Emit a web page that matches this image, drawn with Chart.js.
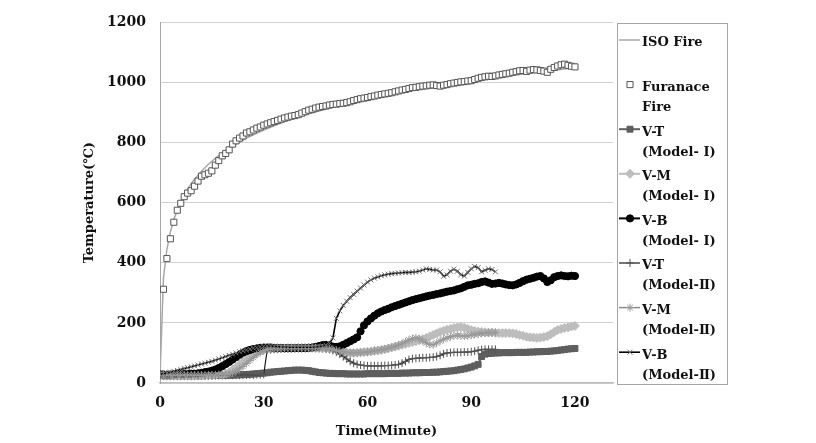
<!DOCTYPE html>
<html>
<head>
<meta charset="utf-8">
<script src="https://cdn.jsdelivr.net/npm/chart.js@4"></script>
<style>
  html, body { margin: 0; padding: 0; background: #fff; }
  #wrap { width: 816px; height: 443px; position: relative; }
</style>
</head>
<body>
<div id="wrap"><canvas id="fireChart"></canvas></div>
<script>
// legend text, one array of lines per series
const legendLabels = [
  ['ISO Fire'],
  ['Furanace', 'Fire'],
  ['V-T', '(Model- Ⅰ)'],
  ['V-M', '(Model- Ⅰ)'],
  ['V-B', '(Model- Ⅰ)'],
  ['V-T', '(Model-Ⅱ)'],
  ['V-M', '(Model-Ⅱ)'],
  ['V-B', '(Model-Ⅱ)']
];

const xTicks = [0, 30, 60, 90, 120];

// ISO 834 standard curve, read at a few times
const isoTime = [0, 1, 2, 3, 4, 5, 6, 7, 8, 9, 10, 12, 14, 16, 18, 20, 25, 30, 35, 40, 45, 50, 55, 60, 70, 80, 90, 100, 110, 120];
const isoTemp = [20, 349, 445, 502, 544, 576, 603, 626, 645, 663, 678, 705, 728, 748, 766, 781, 815, 842, 865, 885, 902, 918, 932, 945, 968, 988, 1006, 1022, 1036, 1049];

// the measured series are one reading per minute, starting at minute 0
const furnace = [
  30, 312, 414, 480, 535, 575, 598, 620, 632, 640,
  655, 672, 688, 693, 698, 706, 725, 740, 756, 764,
  776, 795, 806, 815, 822, 832, 836, 842, 848, 852,
  858, 862, 866, 870, 874, 878, 882, 885, 888, 890,
  893, 898, 903, 908, 911, 915, 918, 920, 922, 925,
  927, 928, 930, 931, 933, 936, 940, 943, 946, 948,
  950, 953, 955, 958, 960, 962, 964, 966, 969, 972,
  975, 977, 980, 983, 984, 986, 988, 989, 991, 992,
  990, 988, 991, 993, 996, 998, 1000, 1002, 1003, 1005,
  1006, 1010, 1014, 1017, 1019, 1021, 1020, 1022, 1025, 1027,
  1029, 1031, 1034, 1036, 1039, 1040, 1037, 1041, 1043, 1042,
  1040, 1038, 1034, 1044, 1050, 1055, 1059, 1061, 1057, 1054,
  1052
];

const vtModel1 = [
  25, 24, 24, 24, 24, 24, 24, 24, 24, 24,
  24, 24, 24, 25, 25, 25, 25, 25, 26, 26,
  26, 26, 27, 27, 28, 28, 29, 30, 31, 32,
  33, 34, 36, 37, 38, 39, 40, 41, 42, 43,
  43, 43, 42, 41, 39, 37, 35, 34, 33, 32,
  32, 31, 31, 31, 30, 30, 30, 30, 30, 30,
  31, 31, 31, 31, 31, 31, 32, 32, 32, 32,
  33, 33, 33, 34, 34, 34, 35, 35, 35, 36,
  36, 37, 38, 39, 40, 41, 43, 45, 47, 50,
  53, 57, 62, 88, 96, 98, 99, 100, 100, 101,
  101, 101, 101, 102, 102, 102, 102, 103, 103, 104,
  104, 105, 105, 106, 107, 108, 110, 111, 113, 114,
  115
];

const vmModel1 = [
  25, 24, 24, 24, 24, 24, 24, 24, 24, 24,
  24, 24, 25, 25, 25, 26, 27, 28, 28, 31,
  36, 44, 52, 61, 70, 78, 86, 94, 101, 106,
  110, 112, 113, 114, 114, 115, 115, 116, 116, 116,
  117, 117, 117, 117, 117, 116, 116, 115, 115, 114,
  113, 110, 106, 103, 101, 100, 100, 101, 102, 103,
  104, 105, 107, 108, 110, 112, 115, 118, 121, 124,
  127, 130, 133, 136, 139, 142, 146, 150, 155, 160,
  165, 170, 174, 177, 180, 183, 185, 186, 184, 180,
  176, 173, 171, 170, 169, 168, 168, 167, 166, 166,
  166, 166, 165, 163, 160, 157, 154, 152, 151, 150,
  151, 153, 156, 162, 170, 176, 180, 183, 185, 188,
  190
];

const vbModel1 = [
  28, 28, 28, 28, 29, 29, 29, 30, 30, 31,
  31, 32, 34, 36, 38, 41, 45, 50, 56, 63,
  70, 78, 86, 94, 101, 106, 110, 113, 115, 117,
  118, 118, 118, 117, 117, 117, 116, 116, 116, 116,
  116, 116, 116, 117, 118, 120, 123, 126, 127, 125,
  121, 120, 122, 127, 133, 139, 145, 152, 172, 192,
  205, 215, 224, 232, 238, 243, 247, 252, 256, 260,
  264, 268, 272, 276, 279, 282, 285, 288, 291, 293,
  296, 298, 301, 304, 306, 308, 312, 315, 320, 325,
  327, 330, 332, 336, 338, 334, 330, 331, 333, 331,
  328, 326, 325, 328, 333, 339, 344, 347, 350, 354,
  356, 348, 336, 342, 352, 356, 358, 356, 355, 357,
  356
];

const vtModel2 = [
  25, 25, 25, 25, 25, 25, 25, 25, 25, 25,
  25, 25, 25, 25, 25, 25, 25, 25, 25, 25,
  26, 26, 26, 26, 26, 27, 27, 27, 28, 28,
  29, 110, 112, 113, 114, 114, 115, 115, 115, 116,
  116, 116, 116, 116, 117, 117, 117, 116, 115, 112,
  108, 103, 96, 88, 80, 72, 66, 62, 60, 58,
  57, 57, 57, 57, 57, 58, 58, 59, 60, 62,
  66, 72, 78, 81, 82, 83, 84, 84, 85, 86,
  88, 92, 97, 100, 101, 102, 102, 102, 103, 103,
  104, 106, 109, 111, 112, 112, 112, 112
];

const vmModel2 = [
  26, 26, 26, 26, 26, 26, 26, 26, 26, 26,
  26, 26, 26, 26, 27, 27, 27, 28, 28, 29,
  30, 34, 40, 47, 55, 65, 75, 85, 95, 102,
  108, 112, 114, 115, 116, 116, 117, 117, 117, 117,
  117, 117, 117, 117, 117, 117, 116, 116, 115, 114,
  112, 109, 106, 104, 102, 101, 100, 100, 101, 102,
  103, 105, 107, 109, 111, 113, 116, 119, 122, 126,
  131, 137, 143, 148, 150, 147, 140, 133, 128, 127,
  133, 140, 146, 150, 154, 157, 158, 157, 156, 157,
  159, 161, 163, 165, 166, 167, 168, 168
];

const vbModel2 = [
  30, 31, 33, 36, 39, 42, 45, 48, 51, 54,
  57, 60, 63, 66, 69, 72, 76, 80, 84, 88,
  92, 96, 100, 104, 107, 110, 113, 116, 118, 120,
  122, 123, 123, 122, 121, 120, 120, 119, 119, 119,
  119, 119, 119, 119, 119, 120, 121, 123, 126, 132,
  150, 215, 240, 258, 272, 284, 295, 306, 316, 326,
  336, 343, 349, 353, 357, 360, 362, 364, 365, 366,
  367, 368, 368, 369, 370, 372, 376, 380, 378, 376,
  376, 370, 355, 360, 372, 379, 372, 360, 356, 368,
  380, 388, 384, 370, 375, 380, 378, 370
];

const perMinute = (vals) => vals.map((v, i) => ({ x: i, y: v }));
const font = 'DejaVu Serif';

const sideLegend = {
  id: 'sideLegend',
  afterDraw(chart) {
    const ctx = chart.ctx;
    ctx.save();
    ctx.strokeStyle = '#a6a6a6';
    ctx.lineWidth = 1;
    ctx.strokeRect(617.5, 23.5, 110, 361);
    ctx.textBaseline = 'middle';
    ctx.textAlign = 'left';
    chart.data.datasets.forEach((ds, i) => {
      const y = 43 + i * 44.6;
      const my = y - 3;
      if (ds.showLine !== false) {
        ctx.strokeStyle = ds.borderColor;
        ctx.lineWidth = ds.borderWidth;
        ctx.beginPath();
        ctx.moveTo(619, my);
        ctx.lineTo(640, my);
        ctx.stroke();
      }
      if (ds.pointRadius > 0) {
        ctx.fillStyle = ds.pointBackgroundColor;
        ctx.strokeStyle = ds.pointBorderColor;
        ctx.lineWidth = ds.pointBorderWidth;
        Chart.helpers.drawPoint(ctx, {
          pointStyle: ds.pointStyle,
          radius: ds.pointRadius,
          borderWidth: ds.pointBorderWidth,
          rotation: 0
        }, 630, my);
      }
      ctx.fillStyle = '#111';
      ctx.font = 'bold 13px "' + font + '"';
      legendLabels[i].forEach((t, k) => ctx.fillText(t, 642, y + k * 20));
    });
    ctx.restore();
  }
};

const ctx = document.getElementById('fireChart').getContext('2d');
const fireChart = new Chart(ctx, {
  type: 'line',
  data: {
    datasets: [
      {
        label: 'ISO Fire',
        data: isoTime.map((t, i) => ({ x: t, y: isoTemp[i] })),
        borderColor: '#a8a8a8',
        borderWidth: 1.5,
        pointRadius: 0,
        order: 7
      },
      {
        label: 'Furanace Fire',
        data: perMinute(furnace),
        showLine: false,
        borderColor: '#555',
        borderWidth: 1,
        pointStyle: 'rect',
        pointRadius: 4.3,
        pointBackgroundColor: '#fff',
        pointBorderColor: '#555',
        pointBorderWidth: 1,
        order: 6
      },
      {
        label: 'V-T (Model-I)',
        data: perMinute(vtModel1),
        borderColor: '#5e5e5e',
        borderWidth: 2,
        pointStyle: 'rect',
        pointRadius: 4.2,
        pointBackgroundColor: '#5e5e5e',
        pointBorderColor: '#5e5e5e',
        pointBorderWidth: 1,
        order: 5
      },
      {
        label: 'V-M (Model-I)',
        data: perMinute(vmModel1),
        borderColor: '#bdbdbd',
        borderWidth: 2,
        pointStyle: 'rectRot',
        pointRadius: 4.5,
        pointBackgroundColor: '#bdbdbd',
        pointBorderColor: '#bdbdbd',
        pointBorderWidth: 1,
        order: 4
      },
      {
        label: 'V-B (Model-I)',
        data: perMinute(vbModel1),
        borderColor: '#000',
        borderWidth: 2,
        pointStyle: 'circle',
        pointRadius: 3.6,
        pointBackgroundColor: '#000',
        pointBorderColor: '#000',
        pointBorderWidth: 1,
        order: 3
      },
      {
        label: 'V-T (Model-II)',
        data: perMinute(vtModel2),
        borderColor: '#1a1a1a',
        borderWidth: 1.2,
        pointStyle: 'cross',
        pointRadius: 4,
        pointBackgroundColor: '#555',
        pointBorderColor: '#555',
        pointBorderWidth: 1,
        order: 2
      },
      {
        label: 'V-M (Model-II)',
        data: perMinute(vmModel2),
        borderColor: '#8a8a8a',
        borderWidth: 1.5,
        pointStyle: 'star',
        pointRadius: 4,
        pointBackgroundColor: '#9a9a9a',
        pointBorderColor: '#9a9a9a',
        pointBorderWidth: 1,
        order: 1
      },
      {
        label: 'V-B (Model-II)',
        data: perMinute(vbModel2),
        borderColor: '#000',
        borderWidth: 1.6,
        pointStyle: 'crossRot',
        pointRadius: 3.5,
        pointBackgroundColor: '#707070',
        pointBorderColor: '#707070',
        pointBorderWidth: 1,
        order: 0
      }
    ]
  },
  options: {
    responsive: true,
    maintainAspectRatio: false,
    animation: false,
    layout: { padding: { left: 78, right: 203, top: 17, bottom: 0 } },
    plugins: {
      legend: { display: false },
      tooltip: { enabled: false }
    },
    scales: {
      x: {
        type: 'linear',
        min: 0,
        max: 131,
        afterBuildTicks: (scale) => { scale.ticks = xTicks.map(v => ({ value: v })); },
        afterFit: (scale) => { scale.height = 60; },
        grid: { display: false, drawTicks: false },
        border: { color: '#bdbdbd', width: 1.5 },
        ticks: { padding: 12, color: '#111', font: { family: font, size: 14, weight: 'bold' } },
        title: { display: true, text: 'Time(Minute)', color: '#111', font: { family: font, size: 13, weight: 'bold' } }
      },
      y: {
        min: 0,
        max: 1200,
        afterFit: (scale) => { scale.width = 82; },
        grid: { color: '#d2d2d2', drawTicks: false },
        border: { color: '#a6a6a6' },
        ticks: {
          stepSize: 200,
          padding: 14,
          color: '#111',
          font: { family: font, size: 14, weight: 'bold' },
          callback: (v) => String(v)
        },
        title: { display: true, text: 'Temperature(℃)', color: '#111', font: { family: font, size: 13, weight: 'bold' } }
      }
    }
  },
  plugins: [sideLegend]
});
</script>
</body>
</html>
